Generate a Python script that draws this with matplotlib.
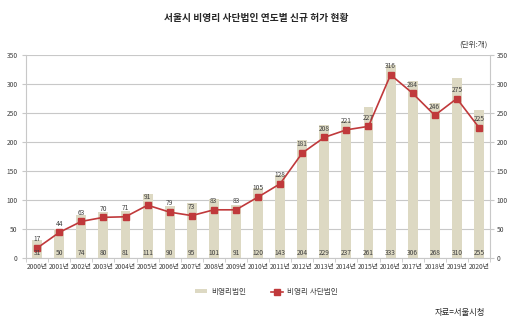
import matplotlib.pyplot as plt
import numpy as np

plt.rcParams['font.family'] = ['Noto Sans CJK KR', 'DejaVu Sans']

years = [f"{y}년" for y in range(2000, 2021)]
nonprofit = [31, 50, 74, 80, 81, 111, 90, 95, 101, 91, 120, 143, 204, 229, 237, 261, 333, 306, 268, 310, 255]
association = [17, 44, 63, 70, 71, 91, 79, 73, 83, 83, 105, 128, 181, 208, 221, 227, 316, 284, 246, 275, 225]

bar_color = "#DDD9C3"
line_color = "#C0393B"
grid_color = "#C8C8C8"
text_color = "#404040"

fig = plt.figure(figsize=(5.12, 3.22), dpi=100)
ax = fig.add_axes([0.051, 0.199, 0.906, 0.630])

x = np.arange(len(years))
bars = ax.bar(x, nonprofit, width=0.45, color=bar_color, zorder=2, label="비영리법인")
line, = ax.plot(x, association, color=line_color, lw=1.2, marker="s", ms=4.3,
                zorder=3, label="비영리 사단법인")

for i, v in enumerate(nonprofit):
    ax.text(x[i], 8, str(v), ha="center", va="center", fontsize=4.8, color=text_color, zorder=4)
for i, v in enumerate(association):
    ax.text(x[i], v + 8, str(v), ha="center", va="bottom", fontsize=4.8, color=text_color, zorder=4)

ax.set_xlim(-0.5, len(years) - 0.5)
ax.set_ylim(0, 350)
ax.set_yticks(range(0, 351, 50))
ax.yaxis.grid(True, color=grid_color, lw=0.8, zorder=0)
ax.set_axisbelow(True)

ax.set_xticks(x)
ax.set_xticklabels(years, fontsize=4.8, color=text_color)
ax.set_xticks(np.arange(-0.5, len(years)), minor=True)
ax.tick_params(axis="x", which="major", length=0, pad=4)
ax.tick_params(axis="x", which="minor", length=3, color=grid_color)
ax.tick_params(axis="y", labelsize=4.8, labelcolor=text_color, length=3, color=grid_color, pad=3)

for s in ["top", "right"]:
    ax.spines[s].set_visible(False)
for s in ["left", "bottom"]:
    ax.spines[s].set_color(grid_color)
    ax.spines[s].set_linewidth(0.8)

ax2 = ax.twinx()
ax2.set_ylim(0, 350)
ax2.set_yticks(range(0, 351, 50))
ax2.tick_params(axis="y", labelsize=4.8, labelcolor=text_color, length=3, color=grid_color, pad=2)
for s in ["top", "left", "bottom"]:
    ax2.spines[s].set_visible(False)
ax2.spines["right"].set_color(grid_color)
ax2.spines["right"].set_linewidth(0.8)

fig.text(0.5, 0.944, "서울시 비영리 사단법인 연도별 신규 허가 현황", ha="center", va="center",
         fontsize=7, fontweight="bold", color="#262626")
fig.text(0.953, 0.860, "(단위:개)", ha="right", va="center", fontsize=5.5, color=text_color)
fig.text(0.948, 0.030, "자료=서울시청", ha="right", va="center", fontsize=6, color="#262626")

fig.legend([bars, line], ["비영리법인", "비영리 사단법인"], loc="center",
           bbox_to_anchor=(0.52, 0.093), ncol=2, frameon=False,
           fontsize=5.5, handlelength=1.6, handleheight=0.4, handletextpad=0.5,
           columnspacing=3.2, labelcolor=text_color)

fig.savefig("out.png", dpi=100)
